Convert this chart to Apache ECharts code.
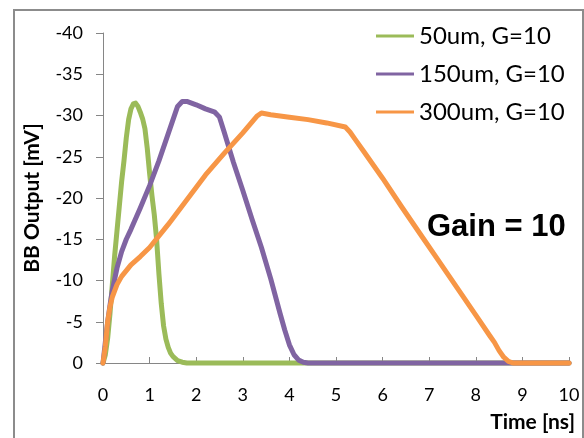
<!DOCTYPE html>
<html>
<head>
<meta charset="utf-8">
<script src="https://cdn.jsdelivr.net/npm/echarts@6/dist/echarts.min.js"></script>
<style>
html,body{margin:0;padding:0;background:#fff;}
#chart{width:584px;height:438px;}
</style>
</head>
<body>
<div id="chart"></div>
<script>
// 轴刻度
var xTicks = [0, 1, 2, 3, 4, 5, 6, 7, 8, 9, 10]
var yTicks = [-40, -35, -30, -25, -20, -15, -10, -5, 0]

var names = ["50um, G=10", "150um, G=10", "300um, G=10"]
var colors = ["#9bbb59", "#8064a2", "#f79646"]

// 50um
var t50 = [0, 0.05, 0.1, 0.15, 0.2, 0.25, 0.3, 0.35, 0.4, 0.45, 0.5, 0.55, 0.6, 0.65, 0.7, 0.75, 0.8, 0.85, 0.9, 0.95, 1.0, 1.05, 1.1, 1.15, 1.2, 1.25, 1.3, 1.35, 1.4, 1.45, 1.5, 1.6, 1.7, 1.8, 10]
var v50 = [0, -1.0, -3.0, -6.0, -9.5, -13, -16, -19, -22, -24.5, -27.3, -29.5, -30.8, -31.4, -31.5, -31.1, -30.4, -29.6, -28.4, -26, -23, -20.3, -18, -15, -10.8, -7.2, -4.5, -2.9, -1.9, -1.2, -0.8, -0.3, -0.1, 0, 0]

// 150um
var t150 = [0, 0.05, 0.1, 0.15, 0.2, 0.3, 0.4, 0.5, 0.6, 0.8, 1.0, 1.2, 1.4, 1.6, 1.7, 1.8, 2.0, 2.2, 2.4, 2.5, 2.6, 2.8, 3.0, 3.2, 3.4, 3.6, 3.8, 3.9, 4.0, 4.1, 4.2, 4.3, 4.4, 10]
var v150 = [0, -2.5, -5, -7, -8.8, -11.5, -13.5, -15, -16.2, -18.8, -21.5, -24.5, -27.8, -31.1, -31.7, -31.7, -31.3, -30.8, -30.4, -29.8, -28.0, -24.3, -20.9, -17.4, -14.0, -10.2, -6.0, -4.0, -2.2, -1.0, -0.35, -0.1, 0, 0]

// 300um
var t300 = [0, 0.05, 0.1, 0.15, 0.2, 0.3, 0.4, 0.6, 0.8, 1.0, 1.4, 1.8, 2.2, 2.6, 3.0, 3.3, 3.4, 3.6, 4.0, 4.4, 4.8, 5.2, 5.3, 5.4, 5.6, 6.0, 6.4, 6.8, 7.2, 7.6, 8.0, 8.3, 8.4, 8.5, 8.6, 8.7, 8.8, 10]
var v300 = [0, -2.0, -5.0, -6.8, -8.0, -9.5, -10.5, -11.9, -12.9, -14.0, -16.8, -19.8, -22.8, -25.4, -27.9, -29.9, -30.3, -30.1, -29.8, -29.5, -29.1, -28.6, -28.0, -27.2, -25.6, -22.4, -19.0, -15.7, -12.4, -9.1, -5.8, -3.3, -2.5, -1.5, -0.7, -0.2, 0, 0]

function pairs(t, v){
	var out = []
	for(var i=0;i<t.length;i++){
		out.push([t[i], v[i]])
	}
	return out
}

var times = [t50, t150, t300]
var values = [v50, v150, v300]
var series = []
for(var i=0;i<names.length;i++){
	series.push({
		name: names[i],
		type: 'line',
		data: pairs(times[i], values[i]),
		symbol: 'none',
		clip: false,
		lineStyle: {
			width: 5,
			color: colors[i],
			join: 'round',
			cap: 'round'
		},
		itemStyle: {
			color: colors[i]
		}
	})
}

var axisGray = "#868686"
var mychart = echarts.init(document.getElementById('chart'))
var option = {
	animation: false,
	color: colors,
	grid: {
		left: 103,
		right: 15,
		top: 33,
		bottom: 75
	},
	legend: {
		orient: 'vertical',
		left: 376,
		top: 24,
		padding: 0,
		itemWidth: 38,
		itemHeight: 14,
		itemGap: 14,
		icon: 'path://M0,6 L38,6 L38,9 L0,9 Z',
		textStyle: {
			fontFamily: 'Lato',
			fontSize: 24,
			color: '#000'
		},
		data: names
	},
	xAxis: {
		type: 'value',
		min: xTicks[0],
		max: xTicks[xTicks.length - 1],
		interval: xTicks[1] - xTicks[0],
		axisLine: {
			onZero: false,
			lineStyle: { color: axisGray, width: 1 }
		},
		axisTick: {
			inside: true,
			length: 6,
			lineStyle: { color: axisGray }
		},
		axisLabel: {
			margin: 23,
			fontFamily: 'Lato',
			fontSize: 18,
			color: '#000'
		},
		splitLine: { show: false }
	},
	yAxis: {
		type: 'value',
		inverse: true,
		min: yTicks[0],
		max: yTicks[yTicks.length - 1],
		interval: yTicks[1] - yTicks[0],
		name: 'BB Output [mV]',
		nameLocation: 'middle',
		nameGap: 60,
		nameTextStyle: {
			fontFamily: 'Lato',
			fontWeight: 'bold',
			fontSize: 21,
			color: '#000'
		},
		axisLine: {
			show: true,
			lineStyle: { color: axisGray, width: 1 }
		},
		axisTick: {
			show: true,
			length: 7,
			lineStyle: { color: axisGray }
		},
		axisLabel: {
			margin: 20,
			fontFamily: 'Lato',
			fontSize: 18,
			color: '#000'
		},
		splitLine: { show: false }
	},
	graphic: [
		{
			type: 'rect',
			shape: { x: 14, y: 10, width: 569, height: 440 },
			style: { fill: 'none', stroke: '#8c8c8c', lineWidth: 2 },
			silent: true
		},
		{
			type: 'text',
			x: 575,
			y: 422,
			style: {
				text: 'Time [ns]',
				fontFamily: 'Lato',
				fontWeight: 'bold',
				fontSize: 21,
				fill: '#000',
				textAlign: 'right',
				textVerticalAlign: 'middle'
			}
		},
		{
			type: 'text',
			x: 427,
			y: 227,
			style: {
				text: 'Gain = 10',
				fontFamily: 'Liberation Sans',
				fontWeight: 'bold',
				fontSize: 31,
				fill: '#000',
				textAlign: 'left',
				textVerticalAlign: 'middle'
			}
		}
	],
	series: series
}
mychart.setOption(option)
window.onresize = function(){
	mychart.resize()
}
</script>
</body>
</html>
